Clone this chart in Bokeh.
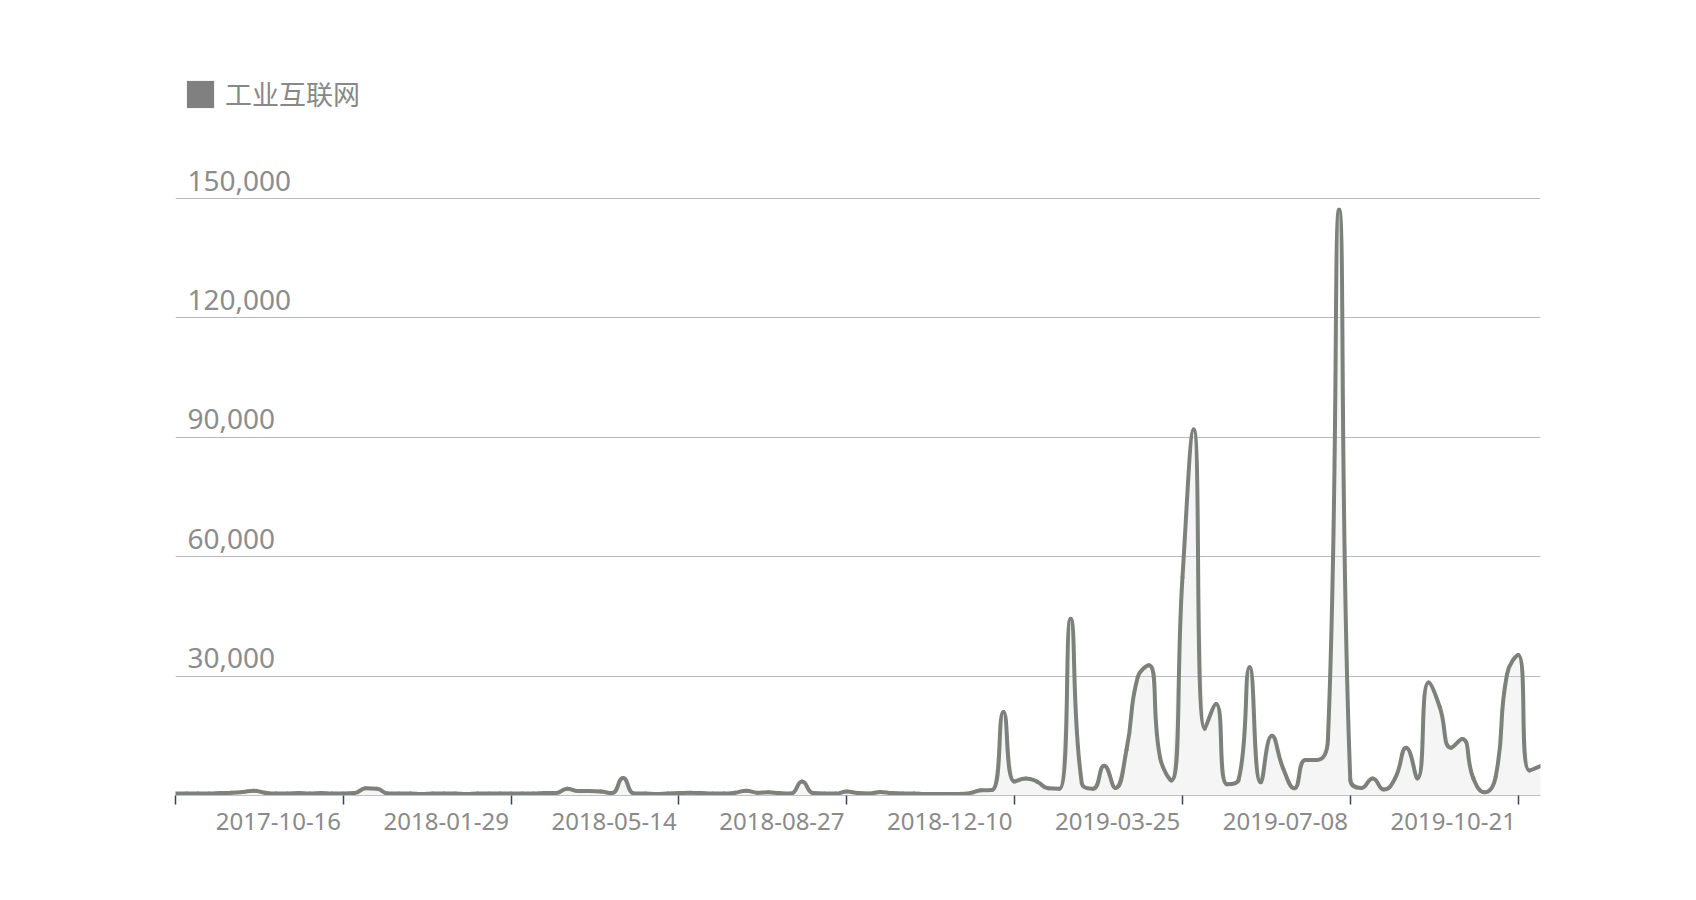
import math
from bokeh.plotting import figure
from bokeh.models import Range1d, FixedTicker, Legend
from bokeh.core.properties import value
from bokeh.embed import file_html
from bokeh.resources import INLINE

# ---------------- data (weekly, index 0 = 2017-07-03) ----------------
series_name = "工业互联网"
week_values = [
    500, 500, 500, 500, 600, 700, 900, 1200, 700, 500,
    500, 600, 500, 600, 500, 500, 600, 1800, 1700, 500,
    500, 500, 400, 500, 500, 500, 400, 500, 500, 500,
    500, 500, 500, 600, 600, 1700, 1100, 1100, 1000, 600,
    4400, 500, 500, 400, 500, 600, 700, 600, 500, 500,
    700, 1200, 700, 800, 600, 500, 3500, 600, 500, 500,
    1000, 600, 500, 900, 600, 500, 500, 400, 400, 400,
    400, 600, 1300, 1400, 21000, 3500, 4300, 3500, 1800, 1700,
    44400, 3100, 1700, 7500, 1900, 11500, 29700, 32700, 9500, 3800,
    54800, 92000, 16800, 23000, 2800, 3800, 32200, 3300, 15000, 6800,
    1800, 8900, 8900, 14000, 147200, 4000, 1900, 4300, 1500, 4300,
    12000, 4300, 28400, 22200, 12000, 14200, 4300, 800, 4800, 30400,
    35300, 6300, 7400,
]
x_tick_index = [0, 15, 30, 45, 60, 75, 90, 105, 120]
x_tick_labels = ["", "2017-10-16", "2018-01-29", "2018-05-14", "2018-08-27",
                 "2018-12-10", "2019-03-25", "2019-07-08", "2019-10-21"]
y_ticks = [30000, 60000, 90000, 120000, 150000]
y_tick_labels = ["30,000", "60,000", "90,000", "120,000", "150,000"]

xs = list(range(len(week_values)))

# ---------------- layout ----------------
W, H = 1680, 884
BL, BR, BT, BB = 175, 140, 60, 89
frame_w = W - BL - BR
frame_h = H - BT - BB
x_end = len(week_values) - 1
y_top = 184700

p = figure(width=W, height=H, output_backend="svg", toolbar_location=None,
           x_range=Range1d(0, x_end), y_range=Range1d(0, y_top),
           min_border_left=BL, min_border_right=BR, min_border_top=BT, min_border_bottom=BB)
p.outline_line_color = None
p.background_fill_color = "white"
p.border_fill_color = "white"
p.yaxis.visible = False
p.xgrid.visible = False
p.ygrid.ticker = FixedTicker(ticks=y_ticks)
p.ygrid.grid_line_color = "#b9b9c2"
p.ygrid.grid_line_width = 1.2

# x axis: labels sit to the left of each tick, ticks drawn as minor ticks
label_pos = [round(i - 5.8, 2) for i in x_tick_index]
ax = p.xaxis[0]
ax.ticker = FixedTicker(ticks=label_pos, minor_ticks=x_tick_index)
ax.major_label_overrides = {lp: lab for lp, lab in zip(label_pos, x_tick_labels)}
ax.major_tick_out = 0
ax.major_tick_in = 0
ax.minor_tick_out = 9
ax.minor_tick_in = 0
ax.minor_tick_line_color = "#3a4358"
ax.minor_tick_line_width = 1.5
ax.axis_line_color = "#c2bfcc"
ax.axis_line_width = 1.2
ax.major_label_standoff = 8
ax.major_label_text_font = "Noto Sans"
ax.major_label_text_font_size = "24px"
ax.major_label_text_color = "#8a8a8a"

# ---------------- area + smooth line ----------------
p.varea(x=xs, y1=[0] * len(xs), y2=week_values, fill_color="#dcdcdc", fill_alpha=0.28)

kx = frame_w / x_end
ky = frame_h / y_top
P = [(x * kx, y * ky) for x, y in zip(xs, week_values)]
n = len(P)
smooth = 0.5
cin = [None] * n
cout = [None] * n
for i in range(n):
    x, y = P[i]
    if i == 0 or i == n - 1:
        cin[i] = (x, y)
        cout[i] = (x, y)
        continue
    px_, py_ = P[i - 1]
    nx_, ny_ = P[i + 1]
    vx, vy = nx_ - px_, ny_ - py_
    l0 = math.hypot(x - px_, y - py_)
    l1 = math.hypot(nx_ - x, ny_ - y)
    r = l1 / (l0 + l1)
    c1x = x + vx * smooth * r
    c1y = y + vy * smooth * r
    c1x = max(min(c1x, max(nx_, x)), min(nx_, x))
    c1y = max(min(c1y, max(ny_, y)), min(ny_, y))
    vx, vy = c1x - x, c1y - y
    c0x = x - vx * l0 / l1
    c0y = y - vy * l0 / l1
    c0x = max(min(c0x, max(px_, x)), min(px_, x))
    c0y = max(min(c0y, max(py_, y)), min(py_, y))
    vx, vy = x - c0x, y - c0y
    c1x = x + vx * l1 / l0
    c1y = y + vy * l1 / l0
    cin[i] = (c0x, c0y)
    cout[i] = (c1x, c1y)

p.bezier(x0=xs[:-1], y0=week_values[:-1], x1=xs[1:], y1=week_values[1:],
         cx0=[cout[i][0] / kx for i in range(n - 1)], cy0=[cout[i][1] / ky for i in range(n - 1)],
         cx1=[cin[i][0] / kx for i in range(1, n)], cy1=[cin[i][1] / ky for i in range(1, n)],
         line_color="#7e807b", line_width=4, line_cap="round", line_join="round")

# ---------------- y labels above gridlines ----------------
p.text(x=[0] * len(y_ticks), y=y_ticks, text=y_tick_labels,
       x_offset=12, y_offset=-18, text_baseline="alphabetic", text_align="left",
       text_font=value("Noto Sans"), text_font_size="28px", text_color="#8c8c8c")

# ---------------- legend ----------------
nan = float("nan")
r_leg = p.quad(left=[nan], right=[nan], top=[nan], bottom=[nan],
               fill_color="#808080", line_color=None)
legend = Legend(items=[(series_name, [r_leg])], location=(8, 682),
                glyph_width=34, glyph_height=34, label_standoff=8, padding=0, margin=0,
                border_line_color=None, background_fill_alpha=0,
                label_text_font="Noto Sans CJK SC", label_text_font_size="27px",
                label_text_color="#888888")
p.add_layout(legend, "center")

open("out.html", "w").write(file_html(p, INLINE))
